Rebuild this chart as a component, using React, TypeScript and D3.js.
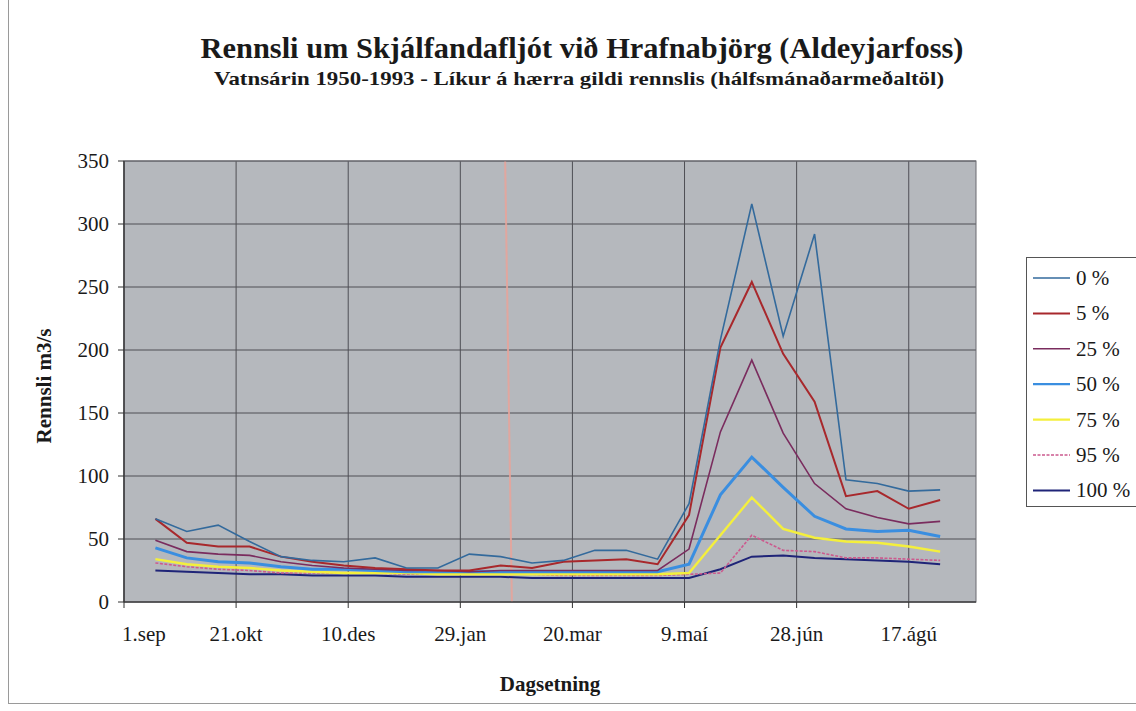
import React from 'react';
import * as d3 from 'd3';

const sampleDates = [
  '1950-09-15', '1950-09-29', '1950-10-13', '1950-10-27', '1950-11-10', '1950-11-24',
  '1950-12-08', '1950-12-22', '1951-01-05', '1951-01-19', '1951-02-02', '1951-02-16',
  '1951-03-02', '1951-03-16', '1951-03-30', '1951-04-13', '1951-04-27', '1951-05-11',
  '1951-05-25', '1951-06-08', '1951-06-22', '1951-07-06', '1951-07-20', '1951-08-03',
  '1951-08-17', '1951-08-31',
];

const p0 = [66, 56, 61, 48, 36, 33, 32, 35, 27, 27, 38, 36, 31, 33, 41, 41, 34, 78, 208, 316, 211, 292, 97, 94, 88, 89];
const p5 = [66, 47, 44, 44, 36, 32, 29, 27, 26, 25, 25, 29, 27, 32, 33, 34, 30, 69, 202, 254, 197, 159, 84, 88, 74, 81];
const p25 = [49, 40, 38, 37, 32, 29, 27, 26, 25, 25, 24, 25, 25, 25, 25, 25, 25, 42, 135, 192, 134, 94, 74, 67, 62, 64];
const p50 = [43, 35, 32, 31, 28, 26, 26, 25, 24, 24, 24, 24, 24, 24, 24, 24, 24, 30, 85, 115, 91, 68, 58, 56, 57, 52];
const p75 = [34, 30, 28, 27, 25, 24, 23, 23, 23, 22, 22, 22, 22, 22, 22, 22, 22, 23, 53, 83, 58, 51, 48, 47, 44, 40];
const p95 = [31, 28, 26, 25, 23, 23, 23, 23, 22, 22, 22, 22, 22, 21, 21, 21, 21, 22, 23, 53, 41, 40, 35, 35, 34, 33];
const p100 = [25, 24, 23, 22, 22, 21, 21, 21, 20, 20, 20, 20, 19, 19, 19, 19, 19, 19, 26, 36, 37, 35, 34, 33, 32, 30];

const seriesNames = ['0 %', '5 %', '25 %', '50 %', '75 %', '95 %', '100 %'];

const tickDates = ['1950-09-01', '1950-10-21', '1950-12-10', '1951-01-29', '1951-03-20', '1951-05-09', '1951-06-28', '1951-08-17'];
const tickLabels = ['1.sep', '21.okt', '10.des', '29.jan', '20.mar', '9.maí', '28.jún', '17.ágú'];
const yTicks = [0, 50, 100, 150, 200, 250, 300, 350];

const axisStart = '1950-09-01';
const axisEnd = '1951-09-16';
const markTop = '1951-02-18';
const markBottom = '1951-02-21';

const styles = [
  { color: '#336a9c', width: 1.6, dash: '' },
  { color: '#a8282c', width: 2, dash: '' },
  { color: '#7a2c5e', width: 1.6, dash: '' },
  { color: '#3a8ee0', width: 3, dash: '' },
  { color: '#f4ef3c', width: 2.4, dash: '' },
  { color: '#cc5a8e', width: 1.6, dash: '3,1.5' },
  { color: '#1f2478', width: 2, dash: '' },
];

const serif = { fontFamily: "'Liberation Serif', 'Times New Roman', serif" };

export default function App() {
  const parse = d3.utcParse('%Y-%m-%d');
  const W = 1136;
  const H = 711;
  const plot = { left: 124, right: 976, top: 161, bottom: 602 };

  const x = d3.scaleUtc()
    .domain([parse(axisStart)!, parse(axisEnd)!])
    .range([plot.left, plot.right]);
  const y = d3.scaleLinear().domain([0, 350]).range([plot.bottom, plot.top]);

  const dates = sampleDates.map(d => parse(d)!);
  const allSeries = [p0, p5, p25, p50, p75, p95, p100];

  const line = d3.line<number>()
    .x((_, i) => x(dates[i]))
    .y(d => y(d));

  const legendX = 1026;
  const legendY = 257;
  const legendStep = 35.4;

  return (
    <div style={{ position: 'fixed', left: 0, top: 0 }}>
      <svg width={W} height={H} style={{ display: 'block', background: '#fff', ...serif }}>
        <rect x={8.5} y={-2} width={1200} height={705.5} fill="none" stroke="#9a9a9a" strokeWidth={1} />

        <text x={582} y={58} textAnchor="middle" style={serif} fontWeight="bold" fontSize={29} fill="#1a1a1a"
          textLength={763} lengthAdjust="spacingAndGlyphs">
          Rennsli um Skjálfandafljót við Hrafnabjörg (Aldeyjarfoss)
        </text>
        <text x={579} y={85} textAnchor="middle" style={serif} fontWeight="bold" fontSize={19.5} fill="#1a1a1a"
          textLength={730} lengthAdjust="spacingAndGlyphs">
          Vatnsárin 1950-1993 - Líkur á hærra gildi rennslis (hálfsmánaðarmeðaltöl)
        </text>

        <rect x={plot.left} y={plot.top} width={plot.right - plot.left} height={plot.bottom - plot.top} fill="#b5b8bd" />

        {yTicks.map(t => (
          <line key={'gy' + t} x1={plot.left} x2={plot.right} y1={y(t)} y2={y(t)} stroke="#4f4f55" strokeWidth={1} />
        ))}
        {tickDates.map(t => (
          <line key={'gx' + t} x1={x(parse(t)!)} x2={x(parse(t)!)} y1={plot.top} y2={plot.bottom} stroke="#4f4f55" strokeWidth={1} />
        ))}

        <line x1={x(parse(markTop)!)} x2={x(parse(markBottom)!)} y1={plot.top} y2={plot.bottom} stroke="#e9a49a" strokeWidth={2} opacity={0.85} />

        <rect x={plot.left} y={plot.top} width={plot.right - plot.left} height={plot.bottom - plot.top} fill="none" stroke="#6b6b70" strokeWidth={1} />

        {allSeries.map((s, i) => (
          <path key={seriesNames[i]} d={line(s) || ''} fill="none" stroke={styles[i].color}
            strokeWidth={styles[i].width} strokeDasharray={styles[i].dash || undefined} strokeLinejoin="miter" />
        )).reverse()}

        <line x1={plot.left} x2={plot.left} y1={plot.top} y2={plot.bottom} stroke="#333" strokeWidth={1.2} />
        <line x1={plot.left} x2={plot.right} y1={plot.bottom} y2={plot.bottom} stroke="#333" strokeWidth={1.2} />

        {yTicks.map(t => (
          <g key={'yt' + t}>
            <line x1={plot.left - 6} x2={plot.left} y1={y(t)} y2={y(t)} stroke="#333" />
            <text x={plot.left - 15} y={y(t) + 7} textAnchor="end" style={serif} fontSize={21} fill="#1a1a1a">{t}</text>
          </g>
        ))}

        {tickDates.map((t, i) => (
          <g key={'xt' + t}>
            <line x1={x(parse(t)!)} x2={x(parse(t)!)} y1={plot.bottom} y2={plot.bottom + 6} stroke="#333" />
            <text x={i === 0 ? x(parse(t)!) - 2 : x(parse(t)!)} y={641}
              textAnchor={i === 0 ? 'start' : 'middle'} style={serif} fontSize={21} fill="#1a1a1a">
              {tickLabels[i]}
            </text>
          </g>
        ))}

        <text x={550} y={691} textAnchor="middle" style={serif} fontWeight="bold" fontSize={21} fill="#1a1a1a">Dagsetning</text>
        <text transform={`translate(51, 386) rotate(-90)`} textAnchor="middle" style={serif} fontWeight="bold" fontSize={21} fill="#1a1a1a">Rennsli m3/s</text>

        <rect x={legendX + 0.5} y={legendY + 0.5} width={130} height={249} fill="#fff" stroke="#555" strokeWidth={1} />
        {seriesNames.map((n, i) => (
          <g key={'lg' + n}>
            <line x1={legendX + 7} x2={legendX + 44} y1={legendY + 21 + i * legendStep} y2={legendY + 21 + i * legendStep}
              stroke={styles[i].color} strokeWidth={Math.min(styles[i].width, 2.2)} strokeDasharray={styles[i].dash || undefined} />
            <text x={legendX + 50} y={legendY + 28 + i * legendStep} style={serif} fontSize={21} fill="#1a1a1a">{n}</text>
          </g>
        ))}
      </svg>
    </div>
  );
}
